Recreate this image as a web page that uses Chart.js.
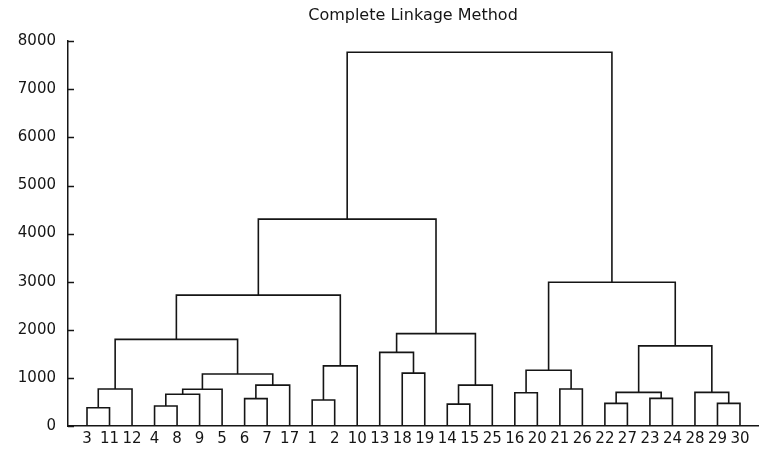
<!DOCTYPE html>
<html>
<head>
<meta charset="utf-8">
<script src="https://cdn.jsdelivr.net/npm/chart.js@4"></script>
<style>
  html, body { margin: 0; padding: 0; background: #fff; }
  #wrap { width: 760px; height: 451px; }
</style>
</head>
<body>
<div id="wrap"><canvas id="dendro"></canvas></div>
<script>
// Leaves in dendrogram order, left to right
const leafLabels = ['3', '11', '12', '4', '8', '9', '5', '6', '7', '17',
  '1', '2', '10', '13', '18', '19', '14', '15', '25', '16',
  '20', '21', '26', '22', '27', '23', '24', '28', '29', '30'];

// Merge steps: a leaf label or 'c<n>' for the n-th merge, and the linkage height
const mergeLeft = ['3', 'c0', '4', 'c2', 'c3', '6', 'c5', 'c4', 'c1', '1',
  'c9', 'c8', '18', '13', '14', 'c14', 'c13', 'c11', '16', '21',
  'c18', '22', '23', 'c21', '29', '28', 'c23', 'c20', 'c17'];
const mergeRight = ['11', '12', '8', '9', '5', '7', '17', 'c6', 'c7', '2',
  '10', 'c10', '19', 'c12', '15', '25', 'c15', 'c16', '20', '26',
  'c19', '27', '24', 'c22', '30', 'c24', 'c25', 'c26', 'c27'];
const mergeHeight = [380, 770, 415, 660, 765, 570, 850, 1080, 1800, 540,
  1250, 2720, 1100, 1530, 455, 850, 1920, 4300, 690, 770,
  1160, 470, 575, 700, 470, 700, 1665, 2990, 7770];

const yTicks = [0, 1000, 2000, 3000, 4000, 5000, 6000, 7000, 8000];

const ink = '#151515';
const font = { family: 'DejaVu Sans', size: 15 };

// x position and height of any node (leaf or merge)
function nodePos(id, memo) {
  if (id[0] !== 'c') return { x: leafLabels.indexOf(id) + 1, h: 0 };
  const k = +id.slice(1);
  if (memo[k]) return memo[k];
  const l = nodePos(mergeLeft[k], memo);
  const r = nodePos(mergeRight[k], memo);
  memo[k] = { x: (l.x + r.x) / 2, h: mergeHeight[k], l, r };
  return memo[k];
}

const memo = [];
const datasets = mergeHeight.map((h, k) => {
  const n = nodePos('c' + k, memo);
  return {
    data: [
      { x: n.l.x, y: n.l.h },
      { x: n.l.x, y: h },
      { x: n.r.x, y: h },
      { x: n.r.x, y: n.r.h }
    ],
    showLine: true,
    borderColor: ink,
    borderWidth: 1.6,
    pointRadius: 0,
    tension: 0,
    clip: false
  };
});

// short tick marks pointing into the plot from the y axis
const inwardTicks = {
  id: 'inwardTicks',
  afterDraw(chart) {
    const s = chart.scales.y;
    const x0 = chart.chartArea.left;
    const ctx = chart.ctx;
    ctx.save();
    ctx.strokeStyle = ink;
    ctx.lineWidth = 1.5;
    s.ticks.forEach(t => {
      const y = Math.round(s.getPixelForValue(t.value)) + 0.5;
      ctx.beginPath();
      ctx.moveTo(x0, y);
      ctx.lineTo(x0 + 6, y);
      ctx.stroke();
    });
    ctx.restore();
  }
};

new Chart(document.getElementById('dendro'), {
  type: 'scatter',
  data: { datasets },
  options: {
    responsive: true,
    maintainAspectRatio: false,
    animation: false,
    layout: { padding: { left: 0, right: 2, top: 0, bottom: 0 } },
    plugins: {
      legend: { display: false },
      tooltip: { enabled: false },
      title: {
        display: true,
        text: 'Complete Linkage Method',
        color: ink,
        fullSize: false,
        font: { family: 'DejaVu Sans', size: 16, weight: 'normal' },
        padding: { top: 6, bottom: 16 }
      }
    },
    scales: {
      x: {
        type: 'linear',
        min: 0.156,
        max: 30.8,
        grid: { display: false, drawTicks: false },
        border: { display: true, color: ink, width: 1.5 },
        afterBuildTicks: s => { s.ticks = leafLabels.map((_, i) => ({ value: i + 1 })); },
        afterFit: s => { s.height = 25; },
        ticks: {
          autoSkip: false,
          maxRotation: 0,
          padding: 4,
          color: ink,
          font,
          callback: v => leafLabels[v - 1]
        }
      },
      y: {
        min: 0,
        max: 8000,
        grid: { display: false, drawTicks: false },
        border: { display: true, color: ink, width: 1.5 },
        afterBuildTicks: s => { s.ticks = yTicks.map(v => ({ value: v })); },
        afterFit: s => { s.width = 68; },
        ticks: {
          padding: 12,
          color: ink,
          font,
          callback: v => String(v)
        }
      }
    }
  },
  plugins: [inwardTicks]
});
</script>
</body>
</html>
